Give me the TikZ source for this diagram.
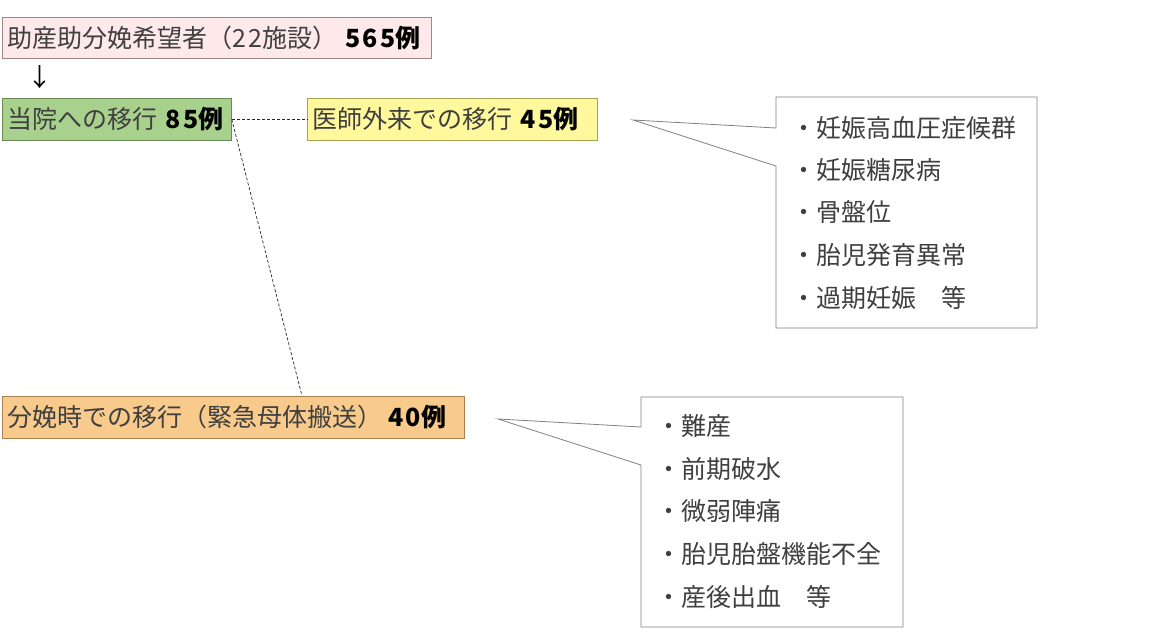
\documentclass[tikz,border=0pt]{standalone}
\usepackage{fontspec}
\setmainfont{Noto Sans CJK JP}
\usetikzlibrary{calc}
\definecolor{txt}{HTML}{3F3F3F}
\definecolor{pinkf}{HTML}{FDE9E9}
\definecolor{pinkd}{HTML}{A08585}
\definecolor{greenf}{HTML}{A9D18E}
\definecolor{greend}{HTML}{6A8A55}
\definecolor{yellf}{HTML}{FFF89C}
\definecolor{yelld}{HTML}{A89F50}
\definecolor{orf}{HTML}{F8CB8C}
\definecolor{ord}{HTML}{A98050}
\definecolor{cgray}{HTML}{808080}
\tikzset{
  box/.style={draw, line width=0.8pt, rectangle, anchor=north west, inner xsep=5pt, inner ysep=0pt,
    align=left, text=txt, font=\fontsize{25}{28}\selectfont},
  item/.style={anchor=west, inner sep=0pt, text=txt, font=\fontsize{25}{28}\selectfont},
  callout/.style={draw=cgray, line width=0.8pt, fill=white},
  link/.style={draw=black!85, line width=0.7pt, dash pattern=on 3pt off 2pt}
}
\newcommand{\bnum}[1]{\textcolor{black}{\bfseries\addfontfeature{LetterSpace=9}#1}}
\newcommand{\dg}[1]{{\addfontfeature{LetterSpace=8}#1}}
\begin{document}
\begin{tikzpicture}[x=1pt,y=-1pt]
\useasboundingbox (0,0) rectangle (1170,635);
% boxes
\node[box, fill=pinkf, draw=pinkd, text width=419pt, minimum height=41pt] (b1) at (2,17) {\mbox{助産助分娩希望者（\dg{22}施設） \bnum{565}\textcolor{black}{\bfseries 例}}};
\node[inner sep=0pt, text=black, font=\fontsize{25}{28}\selectfont] (arr) at (40,77) {↓};
\node[box, fill=greenf, draw=greend, text width=219pt, minimum height=42pt] (b2) at (2,98) {\mbox{当院への移行 \bnum{85}\textcolor{black}{\bfseries 例}}};
\node[box, fill=yellf, draw=yelld, text width=280pt, minimum height=42pt] (b3) at (307,98) {\mbox{医師外来での移行 \bnum{45}\textcolor{black}{\bfseries 例}}};
\node[box, fill=orf, draw=ord, text width=452pt, minimum height=42pt] (b4) at (2,396) {\mbox{分娩時での移行（緊急母体搬送）\kern6pt\bnum{40}\textcolor{black}{\bfseries 例}}};
% connectors
\coordinate (c4) at (302,396);
\draw[link] (b2.east) -- (b3.west);
\draw[link] (b2.east) -- (c4);
% callout 1
\coordinate (t1) at (633,120);
\draw[callout] (776,97) -- (1037,97) -- (1037,328) -- (776,328) -- (776,166) -- (t1) -- (776,128) -- cycle;
\node[item] (l11) at (791,128) {・妊娠高血圧症候群};
\node[item] (l12) at (791,170) {・妊娠糖尿病};
\node[item] (l13) at (791,212) {・骨盤位};
\node[item] (l14) at (791,255) {・胎児発育異常};
\node[item] (l15) at (791,298) {・過期妊娠　等};
% callout 2
\coordinate (t2) at (498,419);
\draw[callout] (641,397) -- (903,397) -- (903,627) -- (641,627) -- (641,465) -- (t2) -- (641,427) -- cycle;
\node[item] (l21) at (656,426) {・難産};
\node[item] (l22) at (656,469) {・前期破水};
\node[item] (l23) at (656,511) {・微弱陣痛};
\node[item] (l24) at (656,554) {・胎児胎盤機能不全};
\node[item] (l25) at (656,597) {・産後出血　等};
\end{tikzpicture}
\end{document}
